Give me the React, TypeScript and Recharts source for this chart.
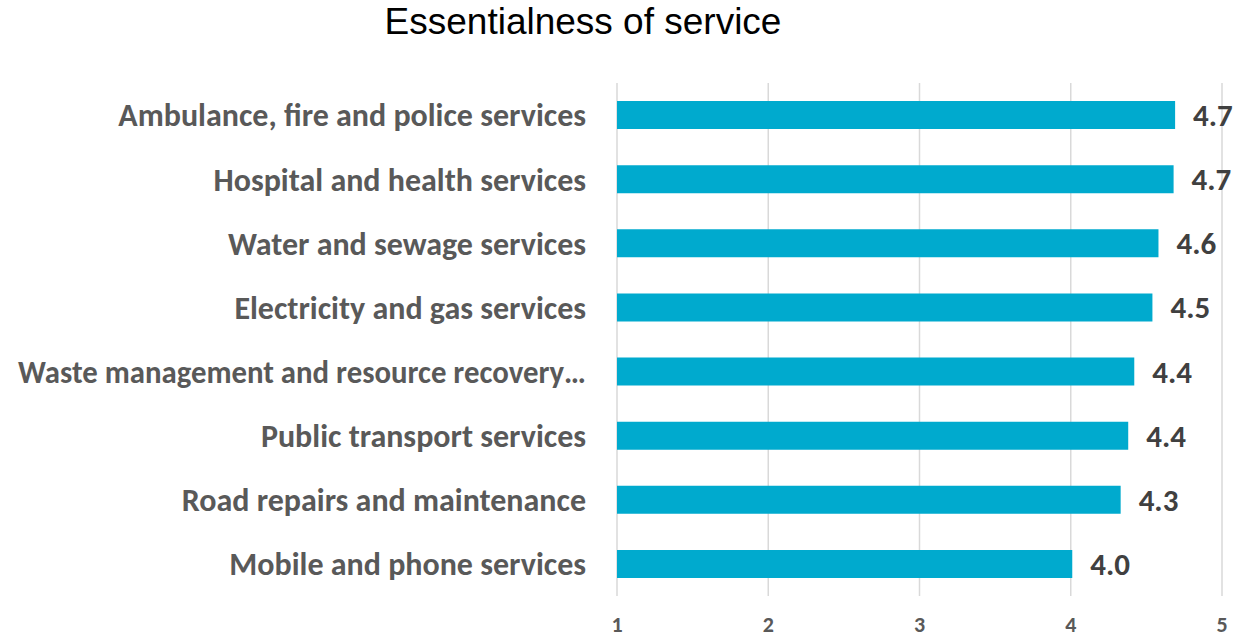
import React from 'react';
import { BarChart, Bar, XAxis, YAxis, CartesianGrid, LabelList } from 'recharts';

// Essentialness of service — mean rating per service (scale 1–5)
const services = [
  'Ambulance, fire and police services',
  'Hospital and health services',
  'Water and sewage services',
  'Electricity and gas services',
  'Waste management and resource recovery…',
  'Public transport services',
  'Road repairs and maintenance',
  'Mobile and phone services',
];
const ratings = [4.69, 4.68, 4.58, 4.54, 4.42, 4.38, 4.33, 4.01];
const xTicks = [1, 2, 3, 4, 5];

const data = services.map((name, i) => ({ name, value: ratings[i] }));

const labelFont = "Calibri, Carlito, 'Open Sans', sans-serif";

// Excel truncates the long label a little tighter; squeeze it to fit the space
function ServiceTick(props: any) {
  const { x, y, payload } = props;
  const long = String(payload.value).length > 36;
  return (
    <text
      x={x}
      y={y}
      dy="0.355em"
      textAnchor="end"
      fill="#595959"
      fontSize={32}
      fontWeight={700}
      fontFamily={labelFont}
      {...(long ? { textLength: 568, lengthAdjust: 'spacingAndGlyphs', x: x - 568, textAnchor: 'start' } : {})}
    >
      {payload.value}
    </text>
  );
}

export default function App() {
  return (
    <div style={{ position: 'absolute', left: 0, top: 0, width: 1237, height: 637, background: '#fff', overflow: 'hidden' }}>
      <div
        style={{
          position: 'absolute', left: 0, width: 1166, top: 1, textAlign: 'center',
          fontFamily: "'Liberation Sans', Arial, sans-serif", fontSize: 37, color: '#000',
        }}
      >
        Essentialness of service
      </div>
      <BarChart
        width={1237}
        height={637}
        data={data}
        layout="vertical"
        margin={{ top: 83, right: 15, bottom: 0, left: 0 }}
        barSize={28}
      >
        <CartesianGrid horizontal={false} stroke="#d9d9d9" strokeWidth={1.5} />
        <XAxis
          type="number"
          domain={[1, 5]}
          ticks={xTicks}
          allowDataOverflow
          axisLine={false}
          tickLine={false}
          tickSize={0}
          tickMargin={20}
          height={41}
          tick={{ fill: '#595959', fontSize: 22, fontWeight: 700, fontFamily: labelFont }}
        />
        <YAxis
          type="category"
          dataKey="name"
          width={617}
          axisLine={false}
          tickLine={false}
          tickSize={0}
          tickMargin={31}
          interval={0}
          tick={<ServiceTick />}
        />
        <Bar dataKey="value" fill="#00AACE" isAnimationActive={false}>
          <LabelList
            dataKey="value"
            position="right"
            offset={18}
            formatter={(v: number) => v.toFixed(1)}
            style={{ fill: '#404040', fontSize: 31, fontWeight: 700, fontFamily: labelFont }}
          />
        </Bar>
      </BarChart>
    </div>
  );
}
